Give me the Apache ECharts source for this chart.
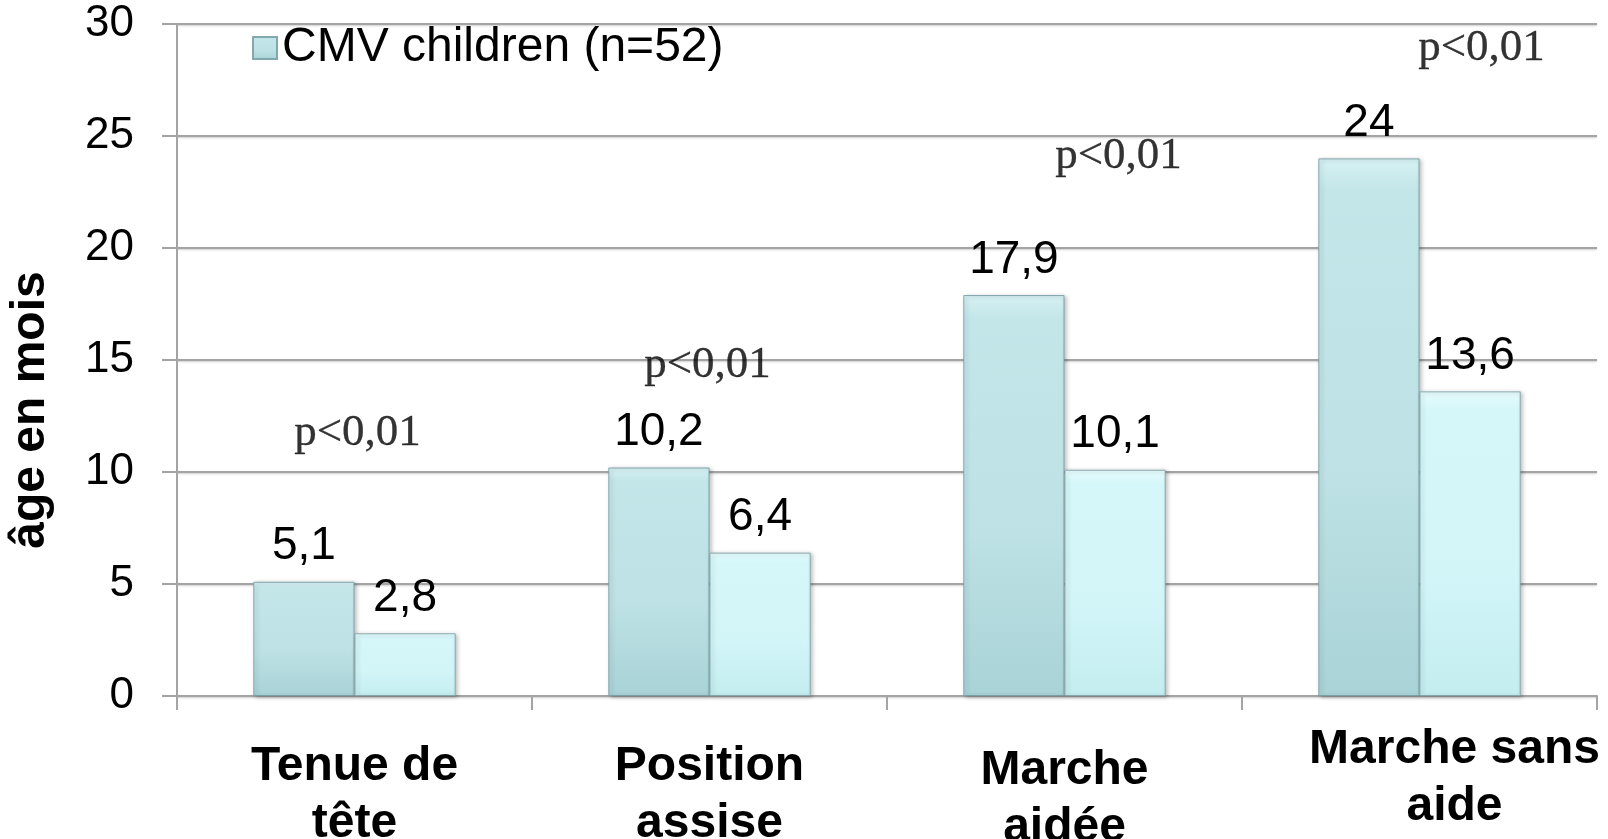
<!DOCTYPE html>
<html><head><meta charset="utf-8">
<script src="https://cdn.jsdelivr.net/npm/echarts@6/dist/echarts.min.js"></script>
<style>html,body{margin:0;padding:0;background:#fff}#c{width:1608px;height:839px}</style>
</head><body><div id="c"></div>
<script>
// ---- data ----
const categories = ['Tenue de\ntête', 'Position\nassise', 'Marche\naidée', 'Marche sans\naide'];
const cmvValues = [5.1, 10.2, 17.9, 24];
const controlValues = [2.8, 6.4, 10.1, 13.6];
const seriesNames = ['CMV children (n=52)', 'Témoins'];
const pValueText = ['p<0,01', 'p<0,01', 'p<0,01', 'p<0,01'];
const pValueLevels = [11.75, 14.75, 24.1, 28.9];
const yMin = 0, yMax = 30, yInterval = 5;

// ---- layout tweaks (not data) ----
const pLabelOffsetX = [3, -2, 54, 62];
const xLabelPadding = [[20,0,0,0],[20,0,0,0],[24,0,0,0],[3,0,0,70]];

const fmt = v => String(v).replace('.', ',');
const sans = '"Liberation Sans", Arial, sans-serif';
const serif = '"Liberation Serif", "Times New Roman", serif';
const grey = '#a4a4a4';

const barShadow = {shadowColor:'rgba(0,0,0,0.25)', shadowBlur:4, shadowOffsetX:2, shadowOffsetY:1};

const chart = echarts.init(document.getElementById('c'), null, {renderer:'canvas'});
chart.setOption({
  animation: false,
  backgroundColor: '#fff',
  grid: {left: 177, right: 11, top: 24, bottom: 143, containLabel: false, outerBoundsMode: 'none'},
  legend: {
    data: [seriesNames[0]], left: 247, top: 19, itemWidth: 24, itemHeight: 22, itemGap: 10,
    icon: 'rect',
    textStyle: {fontFamily: sans, fontSize: 48, color: '#000', lineHeight: 48, padding: [0,0,0,0]}
  },
  xAxis: {
    type: 'category',
    data: categories.map((c, i) => ({value: c, textStyle: {padding: xLabelPadding[i]}})),
    axisLine: {lineStyle: {color: grey, width: 2}},
    axisTick: {show: true, length: 14, lineStyle: {color: grey, width: 2}},
    axisLabel: {interval: 0, margin: 22, fontFamily: sans, fontWeight: 'bold', fontSize: 48, lineHeight: 57, color: '#000'}
  },
  yAxis: {
    type: 'value', min: yMin, max: yMax, interval: yInterval,
    name: 'âge en mois', nameLocation: 'middle', nameGap: 122, nameRotate: 90,
    nameTextStyle: {fontFamily: sans, fontWeight: 'bold', fontSize: 48, color: '#000', lineHeight: 48, padding: [0, 100, 0, 0]},
    axisLine: {show: true, lineStyle: {color: grey, width: 2}},
    axisTick: {show: true, length: 15, lineStyle: {color: grey, width: 2}},
    splitLine: {lineStyle: {color: grey, width: 2, shadowColor:'rgba(0,0,0,0.2)', shadowBlur:2, shadowOffsetY:1}},
    axisLabel: {margin: 43, fontFamily: sans, fontSize: 44, color: '#000'}
  },
  series: [
    {
      name: seriesNames[0], type: 'bar', data: cmvValues, barGap: '0%', barCategoryGap: '43%',
      itemStyle: Object.assign({
        color: new echarts.graphic.LinearGradient(0,0,0,1,[
          {offset:0, color:'#d6f1f3'},{offset:0.06, color:'#c3e6e9'},{offset:0.6, color:'#bde1e4'},{offset:1, color:'#a9d3d7'}]),
        borderColor: 'rgba(120,160,165,0.9)', borderWidth: 1}, barShadow),
      label: {show: true, position: 'top', distance: 12, formatter: p => fmt(p.value),
        fontFamily: sans, fontSize: 46, lineHeight: 46, color: '#000'}
    },
    {
      name: seriesNames[1], type: 'bar', data: controlValues,
      itemStyle: Object.assign({
        color: new echarts.graphic.LinearGradient(0,0,0,1,[
          {offset:0, color:'#e6fcfd'},{offset:0.06, color:'#d6f7f9'},{offset:0.6, color:'#d2f5f8'},{offset:1, color:'#c4edf0'}]),
        borderColor: 'rgba(130,165,170,0.9)', borderWidth: 1}, barShadow),
      label: {show: true, position: 'top', distance: 12, formatter: p => fmt(p.value),
        fontFamily: sans, fontSize: 46, lineHeight: 46, color: '#000'}
    },
    {
      name: 'p', type: 'scatter', symbolSize: 0, silent: true, z: 5,
      itemStyle: {color: '#000'},
      data: pValueLevels.map((v, i) => ({value: [i, v], label: {offset: [pLabelOffsetX[i], 0]}})),
      label: {show: true, position: 'inside', formatter: p => pValueText[p.dataIndex],
        fontFamily: serif, fontSize: 45, color: '#000', textBorderWidth: 0.3, textBorderColor: '#000'}
    }
  ]
});
</script>
</body></html>
